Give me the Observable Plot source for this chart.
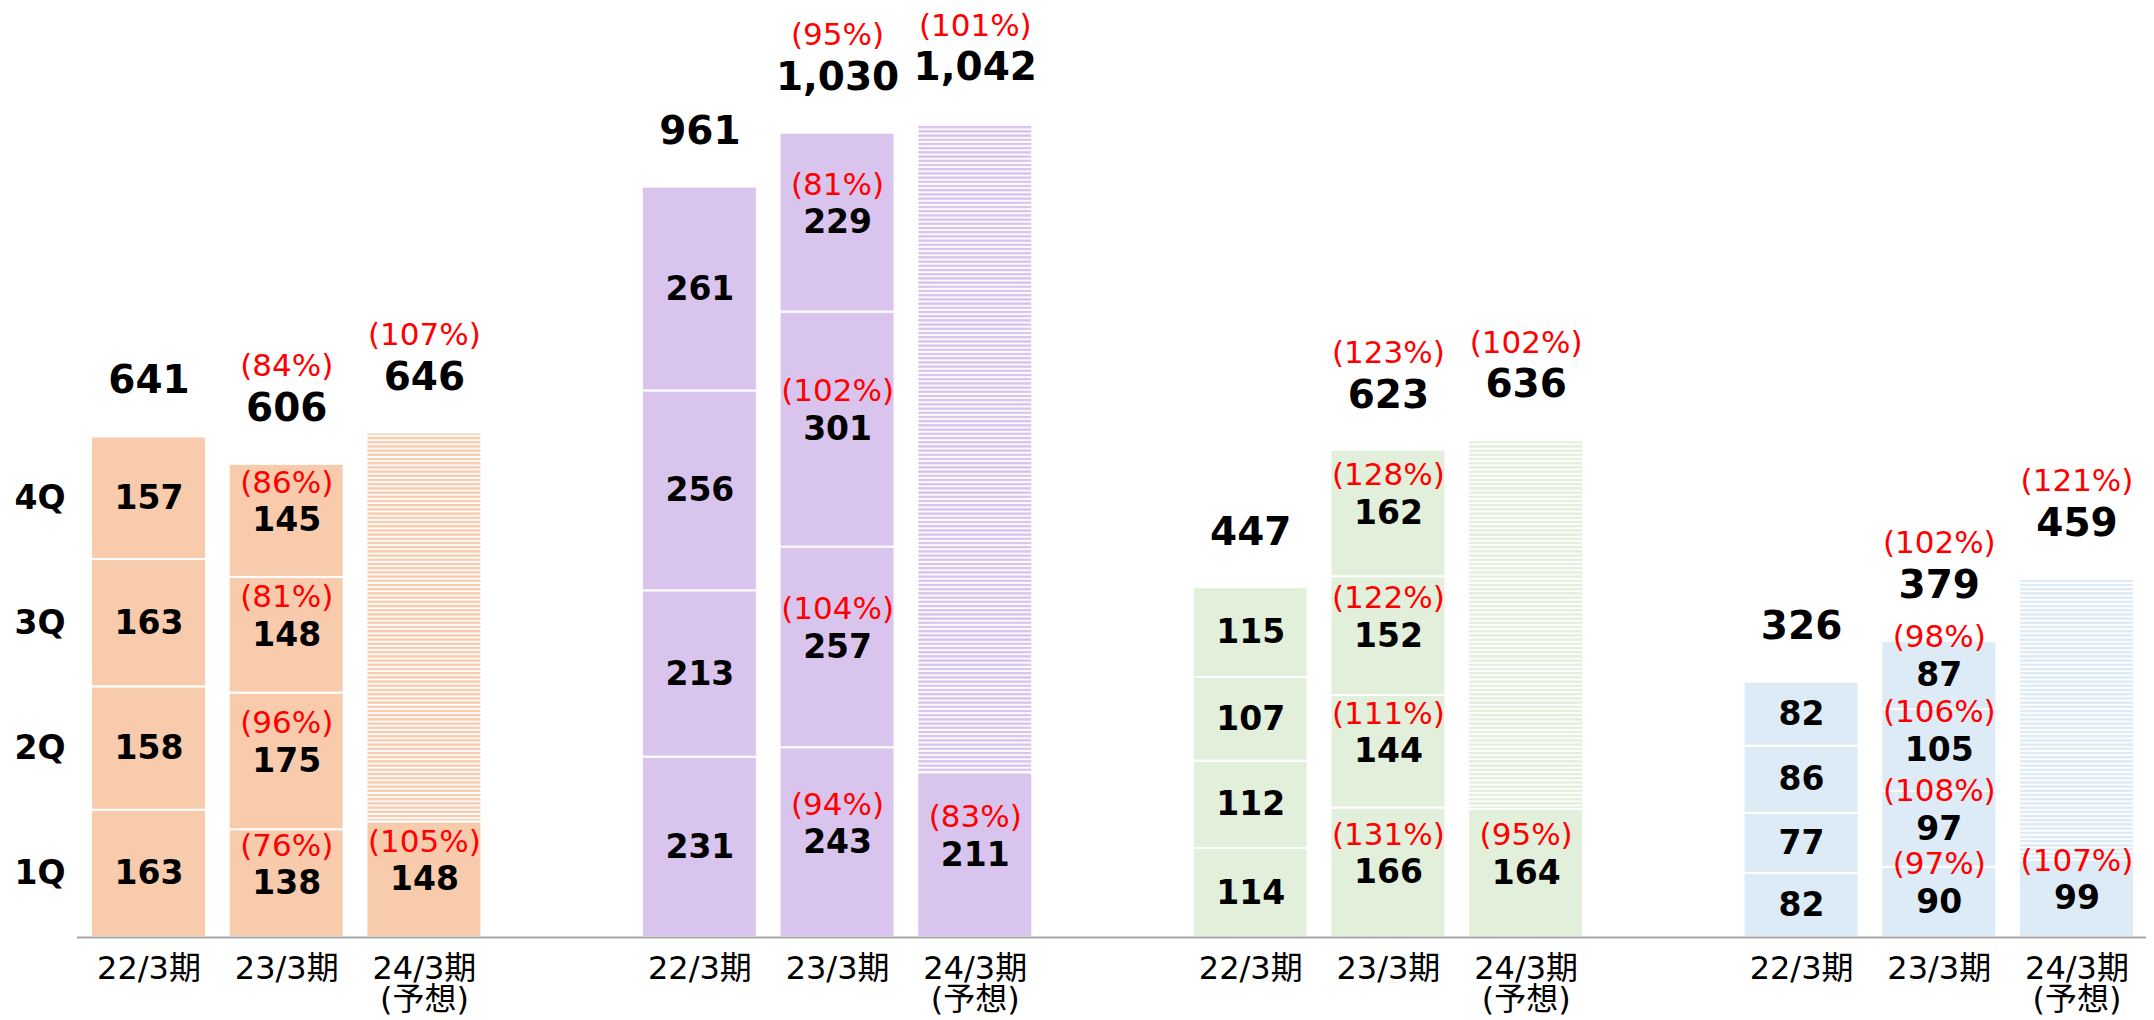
<!DOCTYPE html>
<html><head><meta charset="utf-8">
<script src="https://cdn.jsdelivr.net/npm/d3@7"></script>
<script src="https://cdn.jsdelivr.net/npm/@observablehq/plot@0.6"></script>
<style>body{margin:0;background:#fff;} #chart{width:2154px;height:1020px;}</style>
</head><body><div id="chart"></div>
<script>
const groups = ["g1","g2","g3","g4"];
const periods = ["22/3期","23/3期","24/3期\n(予想)"];
const quarters = ["1Q","2Q","3Q","4Q"];
const fills = ["#F8CBAD","#D9C4EE","#E2EFDA","#DDEBF7"];
const q22 = [[163,158,163,157],[231,213,256,261],[114,112,107,115],[82,77,86,82]];
const q23 = [[138,175,148,145],[243,257,301,229],[166,144,152,162],[90,97,105,87]];
const pct23 = [[76,96,81,86],[94,104,102,81],[131,111,122,128],[97,108,106,98]];
const q24 = [148,211,164,99];
const pct24 = [105,83,95,107];
const totals = [[641,606,646],[961,1030,1042],[447,623,636],[326,379,459]];
const totalPct = [[null,84,107],[null,95,101],[null,123,102],[null,102,121]];

// x domain: 3 bars per group, with an empty slot between groups
const keys = [];
groups.forEach((g, gi) => {
  periods.forEach((p, pi) => keys.push(`${gi}-${pi}`));
  if (gi < groups.length - 1) keys.push(`gap${gi}`);
});

const segments = [];
groups.forEach((g, gi) => {
  let c = 0;
  q22[gi].forEach((v, qi) => { segments.push({key:`${gi}-0`, y1:c, y2:c+v, value:v, pct:null, fill:fills[gi], hatch:false}); c += v; });
  c = 0;
  q23[gi].forEach((v, qi) => { segments.push({key:`${gi}-1`, y1:c, y2:c+v, value:v, pct:pct23[gi][qi], fill:fills[gi], hatch:false}); c += v; });
  segments.push({key:`${gi}-2`, y1:0, y2:q24[gi], value:q24[gi], pct:pct24[gi], fill:fills[gi], hatch:false});
  segments.push({key:`${gi}-2`, y1:q24[gi], y2:totals[gi][2], value:null, pct:null, fill:`url(#hatch${gi})`, hatch:true});
});
const solid = segments.filter(d => !d.hatch);

const totalRows = [];
groups.forEach((g, gi) => periods.forEach((p, pi) => totalRows.push({key:`${gi}-${pi}`, total: totals[gi][pi], pct: totalPct[gi][pi]})));

const qLabels = [];
{ let c = 0; q22[0].forEach((v, qi) => { qLabels.push({key:"0-0", y:c + v/2, label:quarters[qi]}); c += v; }); }

const defsMark = () => {
  const ns = "http://www.w3.org/2000/svg";
  const g = document.createElementNS(ns, "g");
  const defs = document.createElementNS(ns, "defs");
  fills.forEach((f, i) => {
    const pat = document.createElementNS(ns, "pattern");
    pat.setAttribute("id", `hatch${i}`);
    pat.setAttribute("patternUnits", "userSpaceOnUse");
    pat.setAttribute("width", "8");
    pat.setAttribute("height", "4.2");
    const bg = document.createElementNS(ns, "rect");
    bg.setAttribute("width", "8"); bg.setAttribute("height", "4.2"); bg.setAttribute("fill", "white");
    const ln = document.createElementNS(ns, "rect");
    ln.setAttribute("width", "8"); ln.setAttribute("height", "2.4"); ln.setAttribute("fill", f);
    pat.appendChild(bg); pat.appendChild(ln);
    defs.appendChild(pat);
  });
  g.appendChild(defs);
  return g;
};

const font = '"DejaVu Sans","Noto Sans CJK JP",sans-serif';

const chart = Plot.plot({
  width: 2154,
  height: 1020,
  marginLeft: 91,
  marginRight: 20,
  marginTop: 0,
  marginBottom: 83,
  style: {fontFamily: font, background: "white"},
  x: {domain: keys, paddingInner: 0.165, paddingOuter: 0, round: false, axis: null},
  y: {domain: [0, 1200], axis: null},
  color: {type: "identity"},
  marks: [
    defsMark,
    Plot.barY(segments, {x: "key", y1: "y1", y2: "y2", fill: "fill", stroke: "white", strokeWidth: 2}),
    Plot.ruleY([0], {stroke: "#A6A6A6", strokeWidth: 2, insetLeft: -14, insetRight: -12}),
    Plot.text(solid, {x: "key", y: d => (d.y1 + d.y2) / 2, text: d => String(d.value), fontSize: 33, fontWeight: "bold", fill: "black"}),
    Plot.text(solid.filter(d => d.pct != null), {x: "key", y: d => (d.y1 + d.y2) / 2, dy: -38, text: d => `(${d.pct}%)`, fontSize: 31, fill: "#FF0000"}),
    Plot.text(totalRows, {x: "key", y: "total", dy: -56, text: d => d3.format(",")(d.total), fontSize: 39, fontWeight: "bold", fill: "black"}),
    Plot.text(totalRows.filter(d => d.pct != null), {x: "key", y: "total", dy: -98, text: d => `(${d.pct}%)`, fontSize: 31, fill: "#FF0000"}),
    Plot.text(qLabels, {x: "key", y: "y", dx: -109, text: "label", fontSize: 33, fontWeight: "bold", fill: "black"}),
    Plot.axisX({domain: keys, label: null, tickSize: 0, tickPadding: 19, fontSize: 32, fill: "black", lineHeight: 0.98,
      tickFormat: k => k.startsWith("gap") ? "" : periods[+k.split("-")[1]]})
  ]
});
document.getElementById("chart").appendChild(chart);
</script>
</body></html>
